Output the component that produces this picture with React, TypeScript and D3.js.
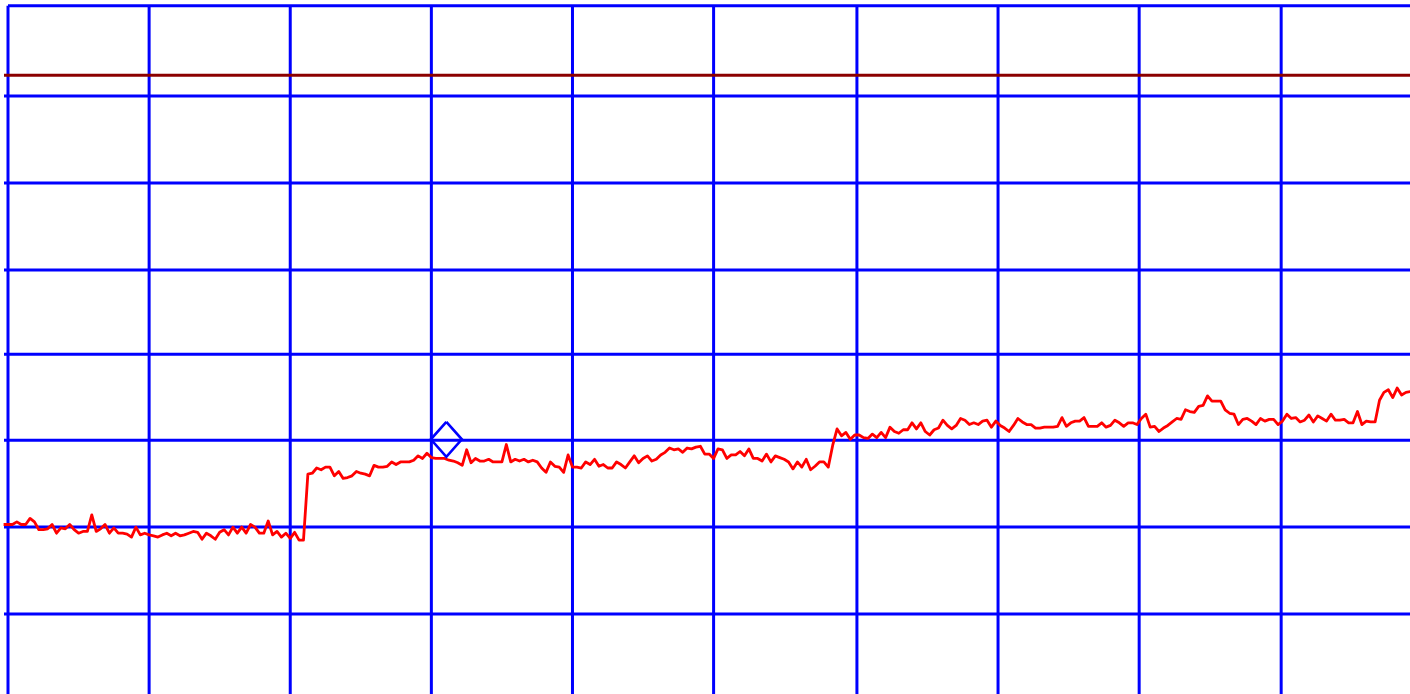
import React from "react";
import * as d3 from "d3";

// x: sample index, y: measured value
const sampleStart = -1;
const values: number[] = [
  // -1 .. 67
  20.3, 20.3, 20.3, 20.6, 20.3, 20.3, 21.0, 20.6, 19.7, 19.7, 19.8, 20.3, 19.3, 19.9, 19.8, 20.3,
  19.7, 19.3, 19.5, 19.5, 21.4, 19.5, 19.8, 20.3, 19.3, 19.9, 19.3, 19.3, 19.2, 18.85, 20.0, 19.1,
  19.3, 19.1, 19.0, 18.85, 19.1, 19.3, 19.0, 19.3, 19.0, 19.1, 19.3, 19.5, 19.4, 18.6, 19.3, 19.0,
  18.6, 19.4, 19.7, 19.1, 20.0, 19.3, 20.0, 19.3, 20.3, 20.0, 19.3, 19.3, 20.7, 19.1, 19.5, 18.85,
  19.3, 18.7, 19.4, 18.5, 18.5,
  // 68 .. 129
  26.1, 26.2, 26.8, 26.6, 26.9, 26.9, 25.9, 26.4, 25.6, 25.7, 25.9, 26.4, 26.2, 26.1, 25.9, 27.1,
  26.9, 26.9, 27.0, 27.5, 27.2, 27.5, 27.5, 27.5, 27.7, 28.2, 27.9, 28.5, 28.0, 27.9, 27.9, 27.9,
  27.7, 27.6, 27.4, 27.1, 28.9, 27.4, 27.9, 27.6, 27.6, 27.8, 27.5, 27.5, 27.5, 29.5, 27.5, 27.8,
  27.6, 27.8, 27.5, 27.7, 27.5, 26.8, 26.3, 27.5, 27.0, 26.9, 26.3, 28.3, 26.9, 26.9,
  // 130 .. 192
  26.8, 27.5, 27.2, 27.8, 27.0, 27.2, 26.8, 26.8, 27.5, 27.2, 26.8, 27.5, 28.2, 27.4, 27.9, 28.2,
  27.6, 27.8, 28.3, 28.6, 29.1, 28.9, 29.0, 28.6, 29.1, 29.0, 29.2, 29.3, 28.4, 28.4, 27.9, 29.0,
  28.9, 27.9, 28.3, 28.3, 28.7, 28.2, 29.0, 27.9, 27.9, 27.6, 28.4, 27.5, 28.2, 28.0, 27.8, 27.5,
  26.7, 27.5, 26.9, 27.8, 26.6, 27.0, 27.5, 27.5, 26.9, 29.4, 31.3, 30.5, 30.9, 30.1, 30.6,
  // 193 .. 252
  30.6, 30.3, 30.2, 30.7, 30.3, 30.9, 30.3, 31.5, 31.0, 30.8, 31.2, 31.2, 32.0, 31.3, 32.0, 31.0,
  30.6, 31.2, 31.4, 32.3, 31.7, 31.3, 31.7, 32.5, 32.3, 31.8, 32.0, 31.8, 32.2, 32.3, 31.5, 32.2,
  31.7, 31.4, 31.0, 31.7, 32.5, 32.1, 31.8, 31.8, 31.4, 31.4, 31.5, 31.5, 31.5, 31.6, 32.6, 31.6,
  32.0, 32.2, 32.2, 32.6, 31.6, 31.6, 31.6, 32.0, 31.5, 31.7, 32.3, 32.0,
  // 253 .. 318
  31.6, 32.0, 32.0, 31.8, 32.5, 33.0, 31.5, 31.6, 31.0, 31.4, 31.7, 32.1, 32.5, 32.4, 33.5, 33.3,
  33.2, 33.9, 34.0, 35.1, 34.5, 34.5, 34.5, 33.5, 33.1, 33.0, 31.8, 32.4, 32.5, 32.2, 31.8, 32.5,
  32.2, 32.4, 32.4, 31.8, 32.2, 33.0, 32.5, 32.6, 32.1, 32.3, 32.9, 32.1, 32.8, 32.5, 32.2, 33.0,
  32.3, 32.3, 32.4, 32.0, 32.0, 33.3, 31.8, 32.2, 32.1, 32.1, 34.6, 35.5, 35.8, 34.9, 36.0, 35.2,
  35.5, 35.6,
];

const xGridTicks = [0, 32, 64, 96, 128, 160, 192.5, 224.5, 256.5, 288.7];
const yGridTicks = [10, 20, 30, 39.9, 49.6, 59.6, 69.6, 80];
const limitValue = 72;
const markerSample = 99.4;
const markerValue = 30.1;

const W = 1410;
const H = 694;

export default function App() {
  const x = d3.scaleLinear().domain([0, 320]).range([8, 8 + 320 * 4.41]);
  const y = d3.scaleLinear().domain([10, 80]).range([614, 614 - 70 * 8.69]);

  const top = y(80);
  const left = x(0);

  const line = d3
    .line<number>()
    .x((_, i) => x(sampleStart + i))
    .y((d) => y(d));

  const mx = x(markerSample);
  const my = y(markerValue);
  const hw = 15.5;
  const hh = 17.5;
  const diamond = d3.line()([
    [mx, my - hh],
    [mx + hw, my],
    [mx, my + hh],
    [mx - hw, my],
    [mx, my - hh],
  ]) as string;

  return (
    <svg
      width={W}
      height={H}
      style={{ position: "absolute", left: 0, top: 0, background: "#fff" }}
    >
      <g stroke="#0000ff" strokeWidth={3} fill="none">
        {yGridTicks.map((t) => (
          <line key={"h" + t} x1={t === 80 ? left : left - 4} x2={W} y1={y(t)} y2={y(t)} />
        ))}
        {xGridTicks.map((t) => (
          <line key={"v" + t} x1={x(t)} x2={x(t)} y1={top} y2={H + 10} />
        ))}
      </g>
      <line
        x1={left - 4}
        x2={W}
        y1={y(limitValue)}
        y2={y(limitValue)}
        stroke="#8b0000"
        strokeWidth={3}
      />
      <path
        d={line(values) as string}
        fill="none"
        stroke="#ff0000"
        strokeWidth={2.8}
        strokeLinejoin="round"
      />
      <path d={diamond} fill="none" stroke="#0000ff" strokeWidth={2.6} />
    </svg>
  );
}
